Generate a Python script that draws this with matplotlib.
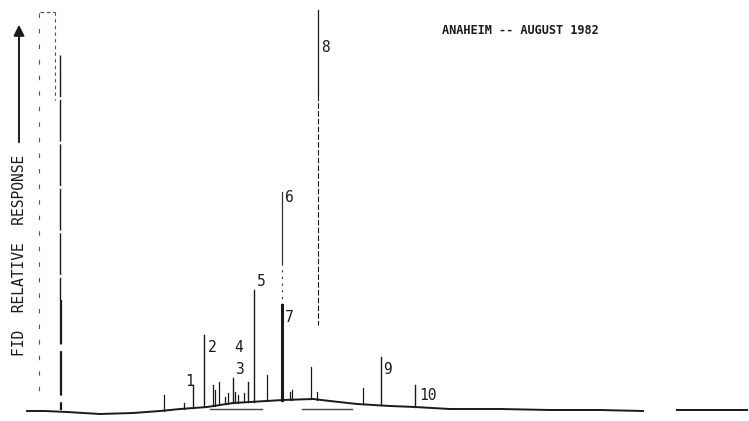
import numpy as np
import matplotlib
matplotlib.use("Agg")
import matplotlib.pyplot as plt

# chart units: x = retention position, y = detector response (both)
H = 421

# baseline trace (retention, response)
base_rt = [27, 45, 67, 100, 133, 160, 180, 207, 233, 250, 283, 313, 330, 357, 390, 415, 450, 500, 550, 600, 643]
base_resp = [10, 10, 9, 7, 8, 10, 12, 14, 18, 19, 21, 22, 20, 17, 15, 14, 12, 12, 11, 11, 10]
tail_rt = [677, 700, 747]
tail_resp = [11, 11, 11]

# numbered peaks
peak_labels = ["1", "2", "3", "4", "5", "6", "7", "8", "9", "10"]
peak_rt = [192.5, 203.5, 232.5, 248, 254, 281.5, 282, 318, 381, 415]
peak_top = [36, 86, 43, 39, 131, 229, 116, 411, 64, 36]
label_x = [189.5, 212, 239, 239, 261, 289, 289, 325, 388, 428]
label_y = [40, 74, 51, 74, 139, 223, 104, 373, 51, 25]

# small unlabelled peaks
minor_rt = [164, 184, 213, 215, 219, 225, 228, 235, 238, 244, 267, 290, 291.5, 311, 363]
minor_top = [26, 18, 36, 31, 39, 24, 28, 29, 26, 28, 46, 29, 31, 54, 33]

# integration marks under the hump
mark_start = [210, 302]
mark_end = [262, 352]
mark_level = 12

ink = "#1a1a1a"
mono = "DejaVu Sans Mono"

fig = plt.figure(figsize=(7.49, 4.21), dpi=100)
ax = fig.add_axes([0, 0, 1, 1])
ax.set_xlim(0, 749)
ax.set_ylim(0, H)
ax.axis("off")

# baseline
ax.plot(base_rt, base_resp, color=ink, lw=1.4)
ax.plot(tail_rt, tail_resp, color=ink, lw=1.4)

def floor(rt):
    return np.interp(rt, base_rt, base_resp)

# solvent peak (off scale)
ax.plot([39, 39], [H - 13, 20], color="#555555", lw=0.8, ls=(0, (4, 10)))
ax.plot([40, 55], [H - 12, H - 12], color="#555555", lw=0.9, ls=(0, (3, 2)))
ax.plot([55, 55], [H - 12, H - 100], color="#555555", lw=0.8, ls=(0, (3, 3)))
ax.plot([60, 60], [H - 55, H - 300], color=ink, lw=1.0, ls=(0, (30, 2)))
ax.plot([60.5, 60.5], [H - 300, floor(60) + 2], color=ink, lw=1.6, ls=(0, (20, 3)))

# minor peaks
for rt, top in zip(minor_rt, minor_top):
    ax.plot([rt, rt], [floor(rt), top], color=ink, lw=0.9)

# numbered peaks
for lab, rt, top, lx, ly in zip(peak_labels, peak_rt, peak_top, label_x, label_y):
    if lab == "8":
        ax.plot([rt, rt], [top, H - 95], color=ink, lw=0.9)
        ax.plot([rt, rt], [H - 95, H - 325], color=ink, lw=0.8, ls=(0, (5, 2)))
        ax.plot([rt - 1, rt - 1], [floor(rt), 29], color=ink, lw=0.9)
    elif lab == "6":
        ax.plot([rt, rt], [top, H - 263], color="#333333", lw=0.9)
        ax.plot([rt, rt], [H - 263, H - 305], color="#333333", lw=0.8, ls=(0, (2, 4)))
    elif lab == "7":
        ax.plot([rt, rt], [floor(rt), top], color=ink, lw=2.2)
    else:
        ax.plot([rt, rt], [floor(rt), top], color=ink, lw=1.0)
    ax.text(lx, ly, lab, ha="center", va="center", fontsize=10.5,
            family=mono, color=ink)

for a, b in zip(mark_start, mark_end):
    ax.plot([a, b], [mark_level, mark_level], color="#444444", lw=1.0)

# axis label with arrow
ax.text(20, H - 255, "FID  RELATIVE  RESPONSE", rotation=90, ha="center", va="center",
        fontsize=10.5, family=mono, color=ink)
ax.annotate("", xy=(19, H - 22), xytext=(19, H - 145),
            arrowprops=dict(arrowstyle="-|>", lw=1.4, color=ink, mutation_scale=16))

ax.text(442, H - 30.5, "ANAHEIM -- AUGUST 1982", ha="left", va="center",
        fontsize=8.6, family=mono, weight="bold", color=ink)

fig.savefig("out.png", dpi=100, facecolor="white")
